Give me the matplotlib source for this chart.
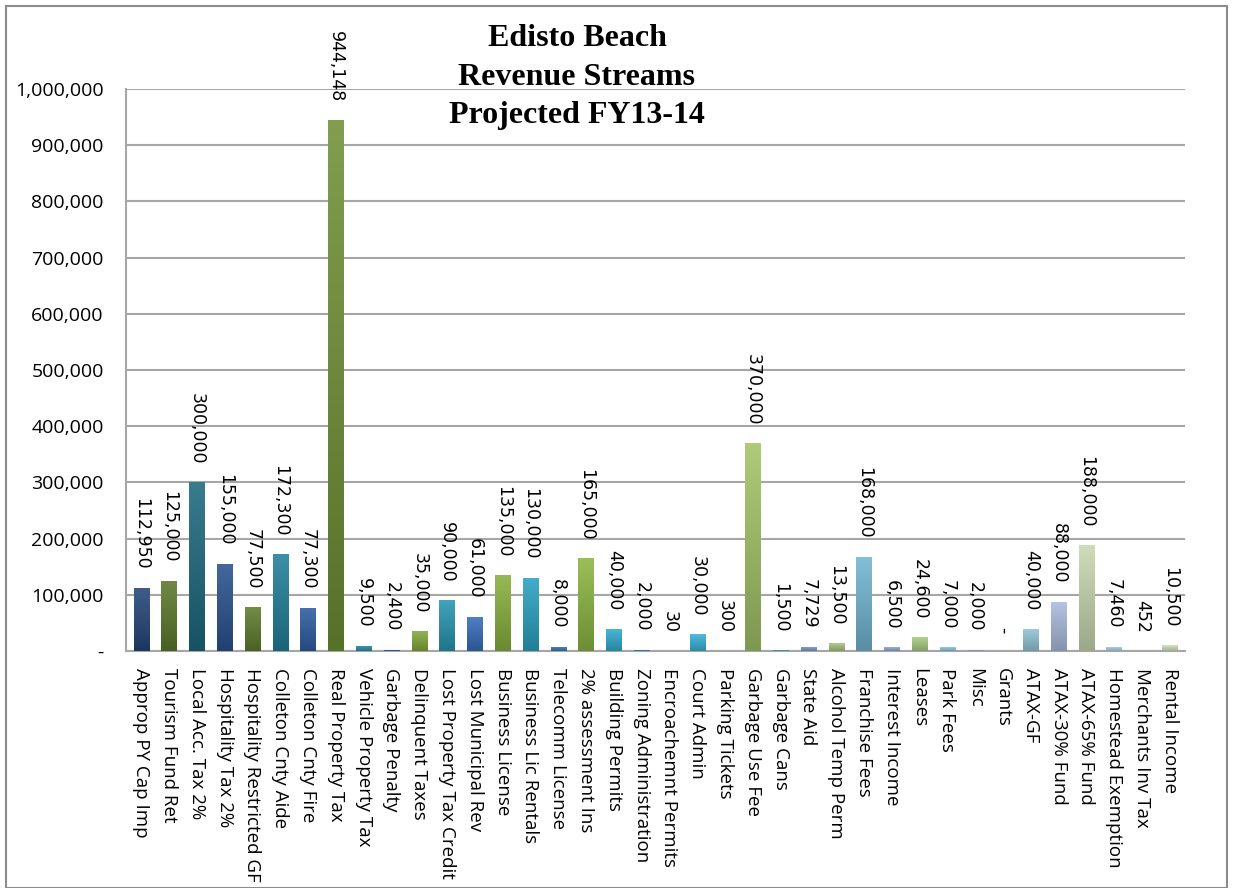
import matplotlib
matplotlib.use("Agg")
import matplotlib.pyplot as plt
import numpy as np
from matplotlib.colors import to_rgb, LinearSegmentedColormap
from matplotlib.patches import Rectangle
from matplotlib.ticker import FuncFormatter

categories = ["Approp PY Cap Imp", "Tourism Fund Ret", "Local Acc. Tax 2%", "Hospitality Tax 2%",
              "Hospitality Restricted GF", "Colleton Cnty Aide", "Colleton Cnty Fire", "Real Property Tax",
              "Vehicle Property Tax", "Garbage Penalty", "Delinquent Taxes", "Lost Property Tax Credit",
              "Lost Municipal Rev", "Business License", "Business Lic Rentals", "Telecomm License",
              "2% assessment Ins", "Building Permits", "Zoning Administration", "Encroachemnt Permits",
              "Court Admin", "Parking Tickets", "Garbage Use Fee", "Garbage Cans", "State Aid",
              "Alcohol Temp Perm", "Franchise Fees", "Interest Income", "Leases", "Park Fees", "Misc",
              "Grants", "ATAX-GF", "ATAX-30% Fund", "ATAX-65% Fund", "Homestead Exemption",
              "Merchants Inv Tax", "Rental Income"]
values = [112950, 125000, 300000, 155000, 77500, 172300, 77300, 944148, 9500, 2400, 35000, 90000,
          61000, 135000, 130000, 8000, 165000, 40000, 2000, 30, 30000, 300, 370000, 1500, 7729,
          13500, 168000, 6500, 24600, 7000, 2000, 0, 40000, 88000, 188000, 7460, 452, 10500]
bar_colors = ["#25477a", "#5c7a2c", "#1d6a7e", "#2a5390", "#5f7d2e", "#22809a", "#2e5ea2", "#6f9136",
              "#2a8fab", "#3262ad", "#84a83c", "#2896b2", "#386ebd", "#88b03e", "#2aa2c2", "#3c75c4",
              "#8cb641", "#32acd0", "#4a7fc8", "#95bd4e", "#38b2d6", "#5a8ad0", "#a2c466", "#4e94ae",
              "#7d9bd1", "#a6c57c", "#72b6d2", "#8ea4d6", "#a8cc82", "#86c4dc", "#98acd8", "#bcd59a",
              "#92c6d8", "#aabcde", "#c8d8b0", "#a8d4e2", "#b4c2e2", "#d0dfba"]
ytick_values = [0, 100000, 200000, 300000, 400000, 500000, 600000, 700000, 800000, 900000, 1000000]
title_lines = ["Edisto Beach", "Revenue Streams", "Projected FY13-14"]

fig = plt.figure(figsize=(12.33, 8.88), dpi=100)
fig.patch.set_facecolor("white")
fig.add_artist(Rectangle((6 / 1233, 0.0), 1221 / 1233, 1 - 6 / 888, transform=fig.transFigure,
                         fill=False, edgecolor="#8c8c8c", linewidth=1.5))
ax = fig.add_axes([126 / 1233, 1 - 651 / 888, (1185 - 126) / 1233, (651 - 89) / 888])

x = np.arange(len(categories))
bars = ax.bar(x, values, width=0.55, color=bar_colors, zorder=3)

# vertical gradient fill clipped to each bar
for b, c in zip(bars, bar_colors):
    base = np.array(to_rgb(c))
    top = base + (1 - base) * 0.12
    bot = base * 0.78
    cmap = LinearSegmentedColormap.from_list("g", [bot, top])
    x0, y0 = b.get_x(), b.get_y()
    w, h = b.get_width(), b.get_height()
    if h <= 0:
        continue
    grad = np.linspace(0, 1, 64).reshape(-1, 1)
    im = ax.imshow(grad, cmap=cmap, extent=[x0, x0 + w, y0, y0 + h], origin="lower",
                   aspect="auto", zorder=3.5, interpolation="bilinear")
    im.set_clip_path(b)

ax.set_xlim(-0.55, len(categories) - 0.45)
ax.set_ylim(0, 1000000)

for xi, v in zip(x, values):
    lab = "-" if v == 0 else f"{v:,}"
    ax.annotate(lab, (xi, v), xytext=(0, 13), textcoords="offset points", rotation=270,
                ha="center", va="bottom", fontsize=12.5, family="DejaVu Sans", color="black",
                zorder=5)

ax.set_yticks(ytick_values)
ax.yaxis.set_major_formatter(FuncFormatter(lambda v, p: "-" if v == 0 else f"{int(v):,}"))
ax.set_xticks(x)
ax.set_xticklabels(categories, rotation=270, ha="center", va="top", family="Open Sans", fontsize=13.5)
for t in ax.get_yticklabels():
    t.set_family("Open Sans")
    t.set_fontsize(14)
ax.tick_params(axis="x", length=0, pad=12)
ax.tick_params(axis="y", length=0, pad=16)

ax.grid(axis="y", color="#a6a6a6", linewidth=1.5, zorder=0)
for s in ["top", "right"]:
    ax.spines[s].set_visible(False)
ax.spines["left"].set_color("#a6a6a6")
ax.spines["bottom"].set_color("#a6a6a6")
ax.spines["left"].set_linewidth(1.5)
ax.spines["bottom"].set_linewidth(1.5)

fig.text(577 / 1233, 1 - 77 / 888, "\n".join(title_lines), ha="center", va="center",
         family="Liberation Serif", fontweight="bold", fontsize=23, linespacing=1.42)

fig.savefig("out.png", dpi=100)
